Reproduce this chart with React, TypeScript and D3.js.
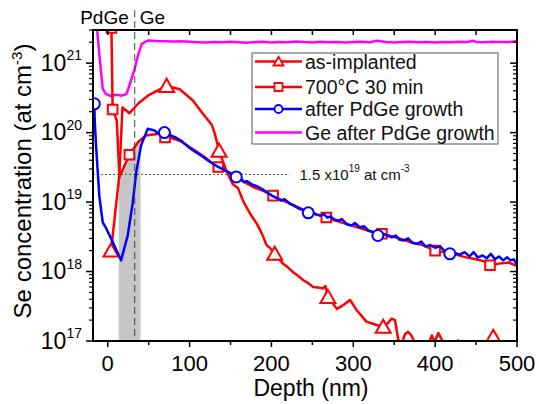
import React, { useRef, useEffect } from 'react';
import * as d3 from 'd3';

type Pt = [number, number];

// depth (nm), Se concentration (at cm^-3)
const asImplanted: Pt[] = [
  [4, 2.0e18], [14, 2.3e19], [18, 2.3e20], [26.5, 1.9e20], [37, 2.6e20], [49, 3.4e20],
  [60, 4.0e20], [72, 4.7e20], [88, 4.2e20], [104, 2.9e20], [116.5, 1.85e20], [127, 1.3e20],
  [131, 9.5e19], [136, 5.5e19], [145, 2.8e19], [153, 1.8e19], [159, 1.6e19], [166, 1.0e19],
  [174, 6.8e18], [182, 4.9e18], [188, 3.6e18], [194, 2.4e18], [198, 2.2e18], [204, 1.8e18],
  [214, 1.3e18], [220, 1.15e18], [226.5, 9.8e17], [233, 8.6e17], [239, 7.5e17], [245, 6.8e17],
  [251, 6.0e17], [257, 5.9e17], [263, 5.7e17], [266, 6.2e17], [269, 4.3e17], [275, 3.5e17],
  [280, 2.9e17], [288, 3.3e17], [296, 3.9e17], [304, 2.8e17], [310, 2.3e17], [316, 1.9e17],
  [322, 1.8e17], [328.5, 1.7e17], [336.5, 1.6e17], [342, 1.8e17], [347, 2.1e17], [351, 2.0e17],
  [355, 1.03e17], [359, 9e16], [363, 1.25e17], [367, 1.36e17], [371, 1.2e17], [375, 9.5e16],
  [382, 7e16], [390, 8e16], [396, 1.2e17], [399, 9.5e16], [404, 1.3e17], [410, 9.5e16],
  [420, 7e16], [428, 1.02e17], [433, 8e16], [450, 7e16], [462, 9.5e16], [471, 1.15e17],
  [478, 9.5e16], [485, 7e16],
];
const asImplantedMarkers: Pt[] = [
  [4, 2.0e18], [72, 4.7e20], [136, 5.5e19], [204, 1.8e18], [269, 4.3e17], [336.5, 1.6e17], [471, 1.15e17],
];

const annealed: Pt[] = [
  [4.5, 3.2e21], [6, 2.15e20], [11, 1.5e20], [14.3, 2.3e19], [26.5, 4.8e19], [36.7, 7.2e19],
  [46.5, 9.1e19], [63, 9.6e19], [70, 8.5e19], [80, 8.2e19], [90, 7.4e19], [100, 6.2e19],
  [110, 5.2e19], [120, 4.3e19], [128, 3.6e19], [135, 3.2e19], [145, 2.8e19], [157, 2.3e19],
  [168, 1.9e19], [180, 1.6e19], [190, 1.45e19], [202, 1.24e19], [212, 1.08e19], [222, 9.6e18],
  [235, 8.2e18], [245, 7.2e18], [256, 6.6e18], [267, 6.0e18], [278, 5.4e18], [290, 4.9e18],
  [300, 4.5e18], [312, 4.1e18], [324, 3.7e18], [335, 3.5e18], [348, 3.2e18], [360, 2.9e18],
  [372, 2.6e18], [385, 2.4e18], [400, 2.0e18], [412, 1.9e18], [425, 1.75e18], [438, 1.6e18],
  [450, 1.5e18], [460, 1.4e18], [467, 1.23e18], [478, 1.3e18], [490, 1.35e18], [500, 1.2e18],
];
const annealedMarkers: Pt[] = [
  [4.5, 3.2e21], [6, 2.15e20], [26.5, 4.8e19], [70, 8.5e19], [135, 3.2e19], [202, 1.24e19],
  [267, 6.0e18], [335, 3.5e18], [400, 2.0e18], [467, 1.23e18],
];

const afterPdGe: Pt[] = [
  [-16.3, 2.6e20], [-16, 1.6e20], [-14.3, 6.5e19], [-10.2, 1.2e19], [-6.1, 5.1e18], [-2, 4.2e18],
  [4, 3.0e18], [16.3, 1.45e18], [24.4, 3.3e18], [30.6, 9.8e18], [34.6, 2.6e19], [40.7, 6.5e19],
  [48.9, 1.14e20], [57, 1.07e20], [63.2, 9.6e19], [69.3, 1.0e20], [76, 9.2e19], [83, 8.5e19],
  [90, 7.6e19], [100, 6.0e19], [108, 5.2e19], [115, 4.6e19], [122, 4.0e19], [128, 3.6e19],
  [135, 3.2e19], [142, 2.9e19], [150, 2.6e19], [157, 2.3e19], [163, 2.2e19], [166, 1.95e19],
  [170, 2.0e19], [176, 1.8e19], [182, 1.7e19], [188, 1.55e19], [194, 1.4e19], [200, 1.25e19],
  [206, 1.15e19], [212, 1.05e19], [216, 1.1e19], [222, 9.6e18], [228, 8.8e18], [234, 8.0e18],
  [240, 7.6e18], [245, 7.0e18], [250, 7.2e18], [255, 6.6e18], [260, 6.4e18], [264, 6.7e18],
  [268, 6.0e18], [272, 6.2e18], [277, 5.6e18], [282, 5.4e18], [286, 5.7e18], [292, 4.8e18],
  [298, 4.6e18], [302, 5.0e18], [308, 4.3e18], [313, 4.5e18], [318, 3.9e18], [324, 3.7e18],
  [330, 3.3e18], [336, 3.5e18], [342, 3.3e18], [347, 3.1e18], [352, 3.3e18], [356, 2.9e18],
  [362, 2.8e18], [367, 3.0e18], [372, 2.6e18], [378, 2.5e18], [383, 2.7e18], [388, 2.3e18],
  [394, 2.4e18], [400, 2.2e18], [406, 2.3e18], [412, 1.95e18], [418, 1.8e18], [424, 1.85e18],
  [430, 1.75e18], [436, 1.9e18], [442, 1.65e18], [447, 1.9e18], [452, 1.6e18], [458, 1.7e18],
  [463, 1.55e18], [468, 1.8e18], [473, 1.5e18], [478, 1.65e18], [483, 1.45e18], [488, 1.6e18],
  [492, 1.45e18], [496, 1.5e18], [500, 1.25e18],
];
const afterPdGeMarkers: Pt[] = [
  [-16.3, 2.6e20], [69.3, 1.0e20], [157, 2.3e19], [245, 7.0e18], [330, 3.3e18], [418, 1.8e18],
];

const geAfterPdGe: Pt[] = [
  [-14, 4.5e21], [-12.8, 2.9e21], [-9.8, 1.15e21], [-6.1, 4.3e20], [-2.4, 3.6e20], [2.4, 3.4e20],
  [12, 3.5e20], [17, 3.4e20], [23, 3.6e20], [27, 5.0e20], [33, 8.3e20], [36.7, 1.27e21],
  [41.6, 1.9e21], [49, 2.12e21], [60, 2.08e21], [70, 2.06e21], [80, 2.05e21], [90, 2.07e21],
  [100, 2.03e21], [110, 2.0e21], [120, 1.98e21], [130, 2.02e21], [140, 2.0e21], [150, 2.04e21],
  [160, 2.0e21], [170, 1.97e21], [180, 2.01e21], [190, 2.03e21], [200, 1.98e21], [210, 2.02e21],
  [220, 2.0e21], [230, 2.05e21], [240, 2.01e21], [250, 1.99e21], [260, 2.03e21], [270, 2.0e21],
  [280, 2.02e21], [290, 1.98e21], [300, 2.01e21], [310, 2.03e21], [320, 2.0e21], [329, 2.1e21],
  [340, 2.02e21], [350, 1.99e21], [360, 2.01e21], [370, 2.03e21], [380, 2.0e21], [390, 2.02e21],
  [400, 1.99e21], [410, 2.02e21], [420, 2.0e21], [430, 2.03e21], [440, 2.01e21], [446, 2.1e21],
  [450, 2.02e21], [460, 2.0e21], [470, 2.03e21], [480, 2.01e21], [490, 2.02e21], [500, 2.06e21],
];

const seriesLabels = ['as-implanted', '700°C 30 min', 'after PdGe growth', 'Ge after PdGe growth'];
const seriesColors = ['#ff0000', '#ff0000', '#0000ff', '#ff00ff'];
const xTicks = [0, 100, 200, 300, 400, 500];
const xMinorTicks = [50, 150, 250, 350, 450];
const yExponents = [17, 18, 19, 20, 21];
const regionLabels = ['PdGe', 'Ge'];
const interfaceDepth = 33;
const shadedBand: Pt = [13.4, 40];
const threshold = 2.5e19;
const thresholdEnd = 222;

const FONT = 'Arial, "Liberation Sans", sans-serif';

// value of a series at depth d, interpolated in log space
const logInterp = (data: Pt[], d: number) => {
  for (let i = 0; i < data.length - 1; i++) {
    const [d0, v0] = data[i];
    const [d1, v1] = data[i + 1];
    if (d >= d0 && d <= d1) {
      const t = (d - d0) / (d1 - d0);
      return Math.pow(10, Math.log10(v0) + t * (Math.log10(v1) - Math.log10(v0)));
    }
  }
  return data[data.length - 1][1];
};

const markerPath = (kind: string, s: number) => {
  if (kind === 'triangle') return `M0,${-s * 0.95}L${s},${s * 0.8}L${-s},${s * 0.8}Z`;
  if (kind === 'square') return `M${-s},${-s}H${s}V${s}H${-s}Z`;
  if (kind === 'circle') return `M${s},0A${s},${s} 0 1,1 ${-s},0A${s},${s} 0 1,1 ${s},0Z`;
  return '';
};

const App = () => {
  const chartRef = useRef<SVGSVGElement>(null);

  useEffect(() => {
    const svg = d3.select(chartRef.current);
    svg.selectAll('*').remove();

    const left = 93, right = 517, top = 30, bottom = 341;
    const x = d3.scaleLinear().domain([-18, 500]).range([left, right]);
    const y = d3.scaleLog().domain([1e17, 3e21]).range([bottom, top]);

    svg.append('defs').append('clipPath').attr('id', 'plotClip')
      .append('rect')
      .attr('x', left).attr('y', top)
      .attr('width', right - left).attr('height', bottom - top);

    const plot = svg.append('g').attr('clip-path', 'url(#plotClip)');

    // shaded PdGe/Ge band under the 700°C curve
    const bandPts: Pt[] = [
      [shadedBand[0], logInterp(annealed, shadedBand[0])],
      ...annealed.filter(d => d[0] > shadedBand[0] && d[0] < shadedBand[1]),
      [shadedBand[1], logInterp(annealed, shadedBand[1])],
    ];
    const area = d3.area<Pt>().x(d => x(d[0])).y0(y(1e17)).y1(d => y(d[1]));
    plot.append('path').datum(bandPts)
      .attr('fill', '#c6c6c6').attr('d', area);

    // threshold dotted line
    plot.append('line')
      .attr('x1', left).attr('x2', x(thresholdEnd))
      .attr('y1', y(threshold)).attr('y2', y(threshold))
      .attr('stroke', '#555').attr('stroke-width', 1).attr('stroke-dasharray', '2,2');

    const line = d3.line<Pt>().x(d => x(d[0])).y(d => y(d[1]));

    const series = [
      { data: geAfterPdGe, markers: [] as Pt[], color: seriesColors[3], kind: '', size: 0 },
      { data: asImplanted, markers: asImplantedMarkers, color: seriesColors[0], kind: 'triangle', size: 7.5 },
      { data: annealed, markers: annealedMarkers, color: seriesColors[1], kind: 'square', size: 4.8 },
      { data: afterPdGe, markers: afterPdGeMarkers, color: seriesColors[2], kind: 'circle', size: 5.5 },
    ];

    series.forEach(s => {
      plot.append('path').datum(s.data)
        .attr('fill', 'none')
        .attr('stroke', s.color)
        .attr('stroke-width', 2.5)
        .attr('stroke-linejoin', 'round')
        .attr('d', line);
      plot.selectAll(null).data(s.markers).enter().append('path')
        .attr('transform', d => `translate(${x(d[0])},${y(d[1])})`)
        .attr('d', markerPath(s.kind, s.size))
        .attr('fill', 'white')
        .attr('stroke', s.color)
        .attr('stroke-width', 2);
    });

    // PdGe / Ge interface
    svg.append('line')
      .attr('x1', x(interfaceDepth)).attr('x2', x(interfaceDepth))
      .attr('y1', 10).attr('y2', bottom)
      .attr('stroke', '#444').attr('stroke-width', 1).attr('stroke-dasharray', '7,4');

    svg.append('text').attr('x', x(interfaceDepth) - 6).attr('y', 24)
      .attr('text-anchor', 'end').attr('font-size', 19).attr('font-family', FONT)
      .text(regionLabels[0]);
    svg.append('text').attr('x', x(interfaceDepth) + 5).attr('y', 24)
      .attr('text-anchor', 'start').attr('font-size', 19).attr('font-family', FONT)
      .text(regionLabels[1]);

    // threshold label
    const thr = svg.append('text').attr('x', x(thresholdEnd) + 10).attr('y', y(threshold) + 6)
      .attr('font-size', 15).attr('font-family', FONT).attr('fill', '#111');
    thr.append('tspan').text('1.5 x10');
    thr.append('tspan').attr('dy', -8).attr('font-size', 10).text('19');
    thr.append('tspan').attr('dy', 8).text(' at cm');
    thr.append('tspan').attr('dy', -8).attr('font-size', 10).text('-3');

    // frame
    svg.append('rect')
      .attr('x', left).attr('y', top)
      .attr('width', right - left).attr('height', bottom - top)
      .attr('fill', 'none').attr('stroke', '#000').attr('stroke-width', 2);

    const axes = svg.append('g').attr('stroke', '#000').attr('stroke-width', 1.5);

    // x ticks: bottom outward, top inward
    xTicks.forEach(t => {
      axes.append('line').attr('x1', x(t)).attr('x2', x(t)).attr('y1', bottom).attr('y2', bottom + 6);
      if (t < 500) axes.append('line').attr('x1', x(t)).attr('x2', x(t)).attr('y1', top).attr('y2', top + 5);
    });
    xMinorTicks.forEach(t => {
      axes.append('line').attr('x1', x(t)).attr('x2', x(t)).attr('y1', bottom).attr('y2', bottom + 4);
      axes.append('line').attr('x1', x(t)).attr('x2', x(t)).attr('y1', top).attr('y2', top + 5);
    });

    // y ticks: left outward, right inward
    yExponents.forEach(e => {
      const v = Math.pow(10, e);
      axes.append('line').attr('x1', left - 7).attr('x2', left).attr('y1', y(v)).attr('y2', y(v));
      axes.append('line').attr('x1', right - 7).attr('x2', right).attr('y1', y(v)).attr('y2', y(v));
      for (let m = 2; m <= 9; m++) {
        const mv = m * v;
        if (mv > 3e21) break;
        axes.append('line').attr('x1', left - 4).attr('x2', left).attr('y1', y(mv)).attr('y2', y(mv)).attr('stroke-width', 1.2);
        axes.append('line').attr('x1', right - 4).attr('x2', right).attr('y1', y(mv)).attr('y2', y(mv)).attr('stroke-width', 1.2);
      }
    });

    // tick labels
    svg.append('g').selectAll('text').data(xTicks).enter().append('text')
      .attr('x', d => x(d)).attr('y', 371)
      .attr('text-anchor', 'middle').attr('font-size', 22).attr('font-family', FONT)
      .text(d => d);

    yExponents.forEach(e => {
      const t = svg.append('text')
        .attr('x', 82).attr('y', y(Math.pow(10, e)) + 7.5)
        .attr('text-anchor', 'end').attr('font-size', 23).attr('font-family', FONT);
      t.append('tspan').text('10');
      t.append('tspan').attr('dy', -10.5).attr('font-size', 14).text(e);
    });

    // axis titles
    svg.append('text').attr('x', 311).attr('y', 396)
      .attr('text-anchor', 'middle').attr('font-size', 23).attr('font-family', FONT)
      .text('Depth (nm)');

    const yl = svg.append('text')
      .attr('transform', 'translate(31,181) rotate(-90)')
      .attr('text-anchor', 'middle').attr('font-size', 24).attr('font-family', FONT);
    yl.append('tspan').text('Se concentration (at cm');
    yl.append('tspan').attr('dy', -9).attr('font-size', 15).text('-3');
    yl.append('tspan').attr('dy', 9).text(')');

    // legend
    const lg = svg.append('g');
    lg.append('rect')
      .attr('x', 252).attr('y', 53).attr('width', 246).attr('height', 91)
      .attr('fill', 'white').attr('stroke', '#555').attr('stroke-width', 1);
    const rowY = [61.5, 87, 109, 132.5];
    const legendKinds = ['triangle', 'square', 'circle', ''];
    const legendSizes = [5, 4, 4, 0];
    seriesLabels.forEach((label, i) => {
      lg.append('line')
        .attr('x1', 255).attr('x2', 302).attr('y1', rowY[i]).attr('y2', rowY[i])
        .attr('stroke', seriesColors[i]).attr('stroke-width', 2.5);
      if (legendKinds[i]) {
        lg.append('path')
          .attr('transform', `translate(278.5,${rowY[i]})`)
          .attr('d', markerPath(legendKinds[i], legendSizes[i]))
          .attr('fill', 'white').attr('stroke', seriesColors[i]).attr('stroke-width', 1.8);
      }
      lg.append('text')
        .attr('x', 305).attr('y', rowY[i] + 7)
        .attr('font-size', 19.5).attr('font-family', FONT).attr('fill', '#111')
        .text(label);
    });
  }, []);

  return (
    <svg ref={chartRef} width={539} height={404}
      style={{ position: 'absolute', left: 0, top: 0, background: 'white' }}></svg>
  );
};

export default App;
